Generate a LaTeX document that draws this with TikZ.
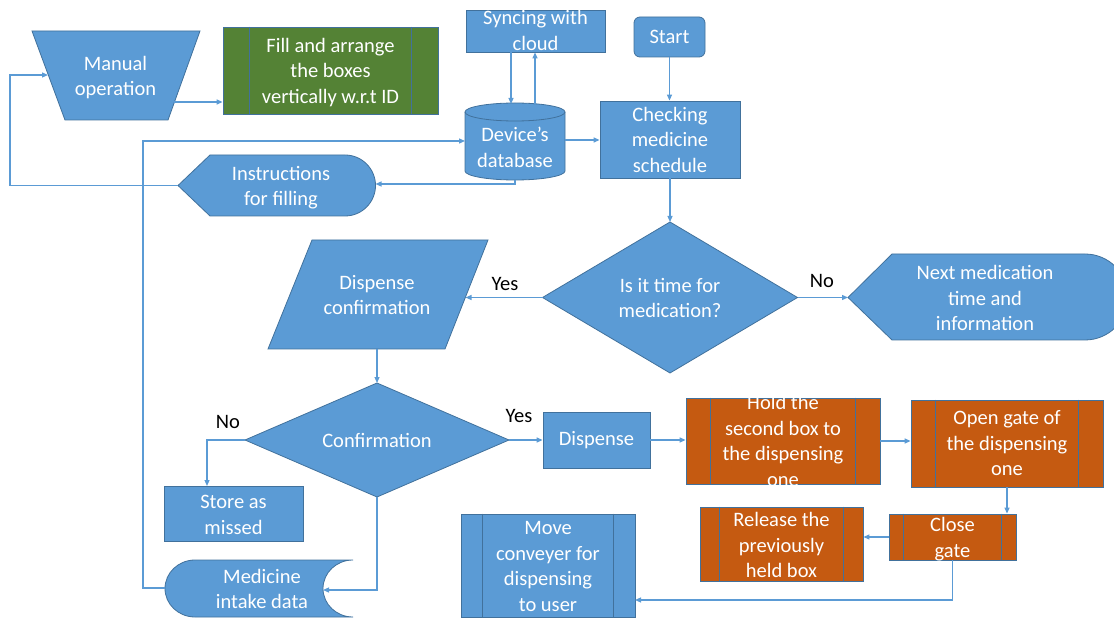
\documentclass[tikz,border=0pt]{standalone}
\usepackage{fontspec}
\setmainfont{Carlito}
\usetikzlibrary{arrows.meta,calc}
\definecolor{ofblue}{HTML}{5B9BD5}
\definecolor{ofedge}{HTML}{41719C}
\definecolor{ofline}{HTML}{5B9BD5}
\definecolor{oforange}{HTML}{C55A11}
\definecolor{ofgreen}{HTML}{548235}
\tikzset{
  shp/.style={fill=ofblue, draw=ofedge, line width=0.8pt, rectangle, inner sep=0pt},
  bar/.style={draw=ofedge, line width=0.8pt},
  txt/.style={text=white, font=\fontsize{20.5}{25.5}\selectfont, align=center, inner sep=0pt},
  lbl/.style={text=black, font=\fontsize{20.5}{25.5}\selectfont, inner sep=0pt},
  conn/.style={draw=ofline, line width=1.2pt, -{Triangle[length=6pt,width=5pt]}},
}
% side bars of a predefined-process box: node name, inset
\newcommand\procbars[2]{%
  \draw[bar] ([xshift=#2]#1.north west) -- ([xshift=#2]#1.south west);
  \draw[bar] ([xshift=-#2]#1.north east) -- ([xshift=-#2]#1.south east);}
\begin{document}
\begin{tikzpicture}[x=1pt,y=-1pt]
\clip (0,0) rectangle (1114,620);

% ---- custom outlines ----
% manual operation (trapezoid)
\draw[shp] (32,31) -- (200,31) -- (168,120) -- (65,120) -- cycle;
\coordinate (manL) at (48,75);
\coordinate (manR) at (174,102);
% device database (cylinder)
\draw[shp] (465,112) -- (465,171) arc[start angle=180, end angle=0, x radius=50, y radius=9]
  -- (565,112) arc[start angle=0, end angle=-180, x radius=50, y radius=9] -- cycle;
\draw[bar] (465,112) arc[start angle=180, end angle=0, x radius=50, y radius=9];
\coordinate (dbL) at (465,141);
\coordinate (dbR) at (565,140);
\coordinate (dbB) at (515,180);
\coordinate (dbTa) at (511,104);
\coordinate (dbTb) at (535,104);
% instructions for filling (display)
\draw[shp] (178,185.5) -- (210,155) -- (345,155) arc[start angle=-90, end angle=90, radius=30.5]
  -- (210,216) -- cycle;
\coordinate (instrL) at (178,185.5);
\coordinate (instrR) at (375.5,184);
% next medication (display)
\draw[shp] (848,297.5) -- (892,254) -- (1085,254) arc[start angle=-90, end angle=90, radius=43]
  -- (892,340) -- cycle;
\coordinate (nextL) at (848,297.5);
% dispense confirmation (data)
\draw[shp] (312,240) -- (488,240) -- (445,349) -- (268,349) -- cycle;
\coordinate (dconfR) at (465.5,297.5);
\coordinate (dconfB) at (377,349);
% decisions
\draw[shp] (542.5,297.5) -- (670,222) -- (797.5,297.5) -- (670,373) -- cycle;
\coordinate (timeL) at (542.5,297.5);
\coordinate (timeR) at (797.5,297.5);
\coordinate (timeT) at (670,222);
\draw[shp] (245,440) -- (377,383) -- (509,440) -- (377,497) -- cycle;
\coordinate (confL) at (245,440);
\coordinate (confR) at (509,440);
\coordinate (confT) at (377,383);
\coordinate (confB) at (377,497);
% medicine intake data (stored data)
\draw[shp] (353,560) -- (195,560) arc[start angle=270, end angle=90, x radius=30, y radius=28.5]
  -- (353,617) arc[start angle=90, end angle=270, x radius=30, y radius=28.5] -- cycle;
\coordinate (medL) at (165,588);
\coordinate (medR) at (323,590);

% ---- boxes ----
\node[shp, fill=ofgreen, minimum width=215pt, minimum height=87pt] (fill) at (330.5,70.5) {};
\procbars{fill}{27pt}
\node[shp, minimum width=139pt, minimum height=42pt] (sync) at (535.5,31) {};
\node[shp, rounded corners=6pt, minimum width=71pt, minimum height=40pt] (start) at (669.5,37) {};
\node[shp, minimum width=140pt, minimum height=77pt] (chk) at (670,139.5) {};
\node[shp, minimum width=139pt, minimum height=55pt] (store) at (233.5,513.5) {};
\node[shp, minimum width=107pt, minimum height=56pt] (disp) at (596.5,440) {};
\node[shp, fill=oforange, minimum width=194pt, minimum height=86pt] (hold) at (783,441) {};
\procbars{hold}{25pt}
\node[shp, fill=oforange, minimum width=192pt, minimum height=87pt] (open) at (1007,443.5) {};
\procbars{open}{25pt}
\node[shp, fill=oforange, minimum width=127pt, minimum height=46pt] (close) at (952.5,537) {};
\procbars{close}{15pt}
\node[shp, fill=oforange, minimum width=163pt, minimum height=74pt] (rel) at (781.5,544) {};
\procbars{rel}{20pt}
\node[shp, minimum width=174pt, minimum height=103pt] (move) at (548,565.5) {};
\procbars{move}{22pt}
\coordinate (storeIn) at (207,486);
\coordinate (moveIn) at (635,600);
\coordinate (trunk) at (143,141);
\coordinate (loopc) at (10,75);

% ---- texts ----
\node[txt] (manT) at (115.5,77.5) {Manual\\operation};
\node[txt] (fillT) at (330.5,72.5) {Fill and arrange\\the boxes\\vertically w.r.t ID};
\node[txt] (syncT) at (535.5,30.5) {Syncing with\\cloud};
\node[txt] (startT) at (669.5,37) {Start};
\node[txt] (dbT) at (515,147.5) {Device’s\\database};
\node[txt] (chkT) at (670,139.5) {Checking\\medicine\\schedule};
\node[txt] (instrT) at (281,187.5) {Instructions\\for filling};
\node[txt] (timeT2) at (670,298) {Is it time for\\medication?};
\node[txt] (nextT) at (985,298) {Next medication\\time and\\information};
\node[txt] (dconfT) at (377,295) {Dispense\\confirmation};
\node[txt] (confT2) at (377,440) {Confirmation};
\node[txt] (storeT) at (233.5,515) {Store as\\missed};
\node[txt] (medT) at (262,589) {Medicine\\intake data};
\node[txt] (dispT) at (596.5,440) {Dispense};
\node[txt] (holdT) at (783,441) {Hold the\\second box to\\the dispensing\\one};
\node[txt] (openT) at (1007,443.5) {Open gate of\\the dispensing\\one};
\node[txt] (closeT) at (952.5,539) {Close\\gate};
\node[txt] (relT) at (781.5,545) {Release the\\previously\\held box};
\node[txt] (moveT) at (548,566.5) {Move\\conveyer for\\dispensing\\to user};

\node[lbl] (yes1) at (505,284) {Yes};
\node[lbl] (no1) at (822,281) {No};
\node[lbl] (no2) at (228,422) {No};
\node[lbl] (yes2) at (519,416) {Yes};

% ---- connectors ----
\draw[conn] (manR) -- (manR -| fill.west);
\draw[conn] (instrL) -| (loopc) -- (manL);
\draw[conn] (dbB) |- (instrR);
\draw[conn] (medL) -| (trunk) -- (dbL);
\draw[conn] (dbTa |- sync.south) -- (dbTa);
\draw[conn] (dbTb) -- (dbTb |- sync.south);
\draw[conn] (start.south) -- (start.south |- chk.north);
\draw[conn] (dbR) -- (dbR -| chk.west);
\draw[conn] (chk.south) -- (timeT);
\draw[conn] (timeL) -- (dconfR);
\draw[conn] (timeR) -- (nextL);
\draw[conn] (dconfB) -- (confT);
\draw[conn] (confL) -| (storeIn);
\draw[conn] (confR) -- (disp.west);
\draw[conn] (confB) |- (medR);
\draw[conn] (disp.east) -- (disp.east -| hold.west);
\draw[conn] (hold.east) -- (hold.east -| open.west);
\draw[conn] (open.south) -- (open.south |- close.north);
\draw[conn] (close.west) -- (close.west -| rel.east);
\draw[conn] (close.south) |- (moveIn);
\end{tikzpicture}
\end{document}
